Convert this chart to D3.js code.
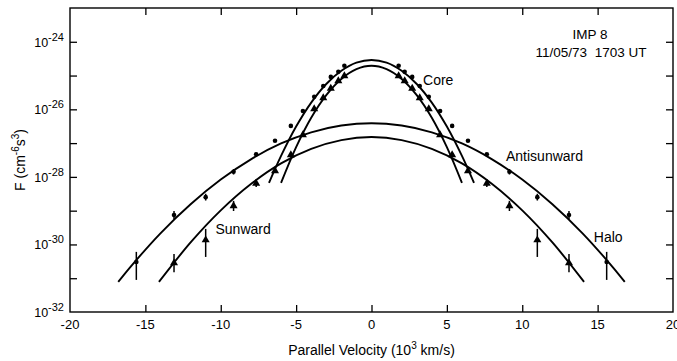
<!DOCTYPE html>
<html>
<head>
<meta charset="utf-8">
<script src="https://cdn.jsdelivr.net/npm/d3@7"></script>
<style>
  html, body { margin: 0; padding: 0; background: #fff; }
  svg { display: block; font-family: "Liberation Sans", Arial, Helvetica, sans-serif; }
</style>
</head>
<body>
<svg id="chart" width="677" height="361"></svg>
<script>
// Parallel velocity (10^3 km/s) at which the energy channels sample the distribution
const velocities = [1.8, 2.2, 2.7, 3.2, 3.8, 4.55, 5.35, 6.4, 7.65, 9.15, 11.0, 13.1, 15.6];

// log10 F (cm^-6 s^3), antisunward side (dots) and sunward side (triangles), same on both signs of v
const antisunwardLogF = [-24.71, -24.89, -25.04, -25.31, -25.63, -26.05, -26.49, -26.93, -27.33, -27.85, -28.60, -29.13, -30.52];
const sunwardLogF     = [-25.01, -25.16, -25.38, -25.66, -25.99, -26.76, -27.35, -27.82, -28.19, -28.86, -29.87, -30.55, null];

// error bars, decades above / below the point (0 = no bar)
const antisunwardErrUp   = [0, 0, 0, 0, 0, 0, 0, 0, 0, 0.08, 0.10, 0.12, 0.30];
const antisunwardErrDown = [0, 0, 0, 0, 0, 0, 0, 0, 0, 0.08, 0.10, 0.12, 0.53];
const sunwardErrUp       = [0, 0, 0, 0, 0, 0, 0, 0, 0.11, 0.15, 0.33, 0.27, 0];
const sunwardErrDown     = [0, 0, 0, 0, 0, 0, 0, 0, 0.11, 0.15, 0.50, 0.27, 0];

// fitted bi-Maxwellian components, sampled as [v, log10 F]
const coreAntisunwardFit = [[-6.8,-28.18],[-6,-27.38],[-5,-26.51],[-4,-25.80],[-3,-25.25],[-2,-24.86],[-1,-24.62],[0,-24.54],
                            [1,-24.62],[2,-24.86],[3,-25.25],[4,-25.80],[5,-26.51],[6,-27.38],[6.8,-28.18]];
const coreSunwardFit     = [[-6,-28.18],[-5,-27.12],[-4,-26.25],[-3,-25.58],[-2,-25.10],[-1,-24.81],[0,-24.71],
                            [1,-24.81],[2,-25.10],[3,-25.58],[4,-26.25],[5,-27.12],[6,-28.18]];
const haloAntisunwardFit = [[-16.8,-31.11],[-16,-30.67],[-14,-29.67],[-12,-28.81],[-10,-28.08],[-8,-27.48],[-6,-27.01],[-4,-26.68],[-2,-26.48],[0,-26.41],
                            [2,-26.48],[4,-26.68],[6,-27.01],[8,-27.48],[10,-28.08],[12,-28.81],[14,-29.67],[16,-30.67],[16.8,-31.11]];
const haloSunwardFit     = [[-14.1,-31.11],[-12,-29.94],[-10,-28.99],[-8,-28.21],[-6,-27.60],[-4,-27.17],[-2,-26.91],[0,-26.82],
                            [2,-26.91],[4,-27.17],[6,-27.60],[8,-28.21],[10,-28.99],[12,-29.94],[14.1,-31.11]];

// axes
const xTicks = [-20, -15, -10, -5, 0, 5, 10, 15, 20];
const yDecades = [-32, -31, -30, -29, -28, -27, -26, -25, -24, -23];
const yLabelDecades = [-32, -30, -28, -26, -24];

const svg = d3.select("#chart");
const plotLeft = 70, plotRight = 673, plotTop = 8, plotBottom = 312;

const x = d3.scaleLinear().domain([-20, 20]).range([plotLeft, plotRight]);
const y = d3.scaleLog().domain([1e-32, 1e-23]).range([plotBottom, plotTop]);
const F = e => Math.pow(10, e);

// ticks, all pointing inward
const tickLen = 7;
svg.append("g").attr("transform", `translate(0,${plotBottom})`)
  .call(d3.axisBottom(x).tickValues(xTicks.slice(1, -1)).tickSize(-tickLen).tickFormat(""))
  .call(g => g.select(".domain").remove());
svg.append("g").attr("transform", `translate(0,${plotTop})`)
  .call(d3.axisTop(x).tickValues(xTicks.slice(1, -1)).tickSize(-tickLen).tickFormat(""))
  .call(g => g.select(".domain").remove());
svg.append("g").attr("transform", `translate(${plotLeft},0)`)
  .call(d3.axisLeft(y).tickValues(yDecades.slice(1, -1).map(F)).tickSize(-tickLen).tickFormat(""))
  .call(g => g.select(".domain").remove());
svg.append("g").attr("transform", `translate(${plotRight},0)`)
  .call(d3.axisRight(y).tickValues(yDecades.slice(1, -1).map(F)).tickSize(-tickLen).tickFormat(""))
  .call(g => g.select(".domain").remove());
svg.selectAll(".tick line").attr("stroke", "#000").attr("stroke-width", 1.3);

// frame
svg.append("rect").attr("x", plotLeft).attr("y", plotTop)
  .attr("width", plotRight - plotLeft).attr("height", plotBottom - plotTop)
  .attr("fill", "none").attr("stroke", "#000").attr("stroke-width", 1.4);

// x tick labels
svg.append("g").selectAll("text").data(xTicks).join("text")
  .attr("x", d => x(d)).attr("y", plotBottom + 17)
  .attr("text-anchor", "middle").attr("font-size", 13)
  .text(d => d);

// y tick labels: 10 with superscript exponent
const yl = svg.append("g").selectAll("text").data(yLabelDecades).join("text")
  .attr("x", plotLeft - 6).attr("y", d => y(F(d)) + 5)
  .attr("text-anchor", "end").attr("font-size", 12.5);
yl.append("tspan").text("10");
yl.append("tspan").attr("font-size", 11).attr("dy", -6).text(d => d);

// axis titles
const xt = svg.append("text").attr("x", (plotLeft + plotRight) / 2).attr("y", 355)
  .attr("text-anchor", "middle").attr("font-size", 14);
xt.append("tspan").text("Parallel Velocity (10");
xt.append("tspan").attr("font-size", 10).attr("dy", -6).text("3");
xt.append("tspan").attr("dy", 6).text(" km/s)");

const yt = svg.append("text").attr("transform", `translate(25,${(plotTop + plotBottom) / 2}) rotate(-90)`)
  .attr("text-anchor", "middle").attr("font-size", 14);
yt.append("tspan").text("F (cm");
yt.append("tspan").attr("font-size", 10).attr("dy", -6).text("-6");
yt.append("tspan").attr("dy", 6).text("s");
yt.append("tspan").attr("font-size", 10).attr("dy", -6).text("3");
yt.append("tspan").attr("dy", 6).text(")");

// fitted curves
const line = d3.line().x(d => x(d[0])).y(d => y(F(d[1]))).curve(d3.curveCatmullRom.alpha(0.5));
const plot = svg.append("g");
[coreAntisunwardFit, coreSunwardFit, haloAntisunwardFit, haloSunwardFit].forEach(c =>
  plot.append("path").attr("d", line(c)).attr("fill", "none")
    .attr("stroke", "#000").attr("stroke-width", 1.9));

// measured points on both sides of v = 0
function points(logF, up, down) {
  const out = [];
  velocities.forEach((v, i) => {
    if (logF[i] == null) return;
    [-v, v].forEach(s => out.push({ v: s, f: logF[i], up: up[i], down: down[i] }));
  });
  return out;
}
const anti = points(antisunwardLogF, antisunwardErrUp, antisunwardErrDown);
const sun = points(sunwardLogF, sunwardErrUp, sunwardErrDown);

const bars = [...anti, ...sun].filter(d => d.up > 0 || d.down > 0);
plot.selectAll("line.err").data(bars).join("line").attr("class", "err")
  .attr("x1", d => x(d.v)).attr("x2", d => x(d.v))
  .attr("y1", d => y(F(d.f + d.up))).attr("y2", d => y(F(d.f - d.down)))
  .attr("stroke", "#000").attr("stroke-width", 1.5);

plot.selectAll("circle.anti").data(anti).join("circle").attr("class", "anti")
  .attr("cx", d => x(d.v)).attr("cy", d => y(F(d.f))).attr("r", 2.3).attr("fill", "#000");

const tri = d3.symbol().type(d3.symbolTriangle).size(28);
plot.selectAll("path.sun").data(sun).join("path").attr("class", "sun")
  .attr("d", tri).attr("transform", d => `translate(${x(d.v)},${y(F(d.f))})`).attr("fill", "#000");

// annotations
const notes = [
  { text: "Core", v: 3.42, e: -25.28 },
  { text: "Antisunward", v: 8.92, e: -27.53 },
  { text: "Sunward", v: -10.35, e: -29.70 },
  { text: "Halo", v: 14.75, e: -29.93 }
];
svg.append("g").selectAll("text").data(notes).join("text")
  .attr("x", d => x(d.v)).attr("y", d => y(F(d.e))).attr("font-size", 14).text(d => d.text);

svg.append("text").attr("x", 590).attr("y", 39).attr("text-anchor", "middle").attr("font-size", 13.5).text("IMP 8");
svg.append("text").attr("x", 591).attr("y", 57).attr("text-anchor", "middle").attr("font-size", 13.5)
  .style("white-space", "pre").text("11/05/73  1703 UT");
</script>
</body>
</html>
